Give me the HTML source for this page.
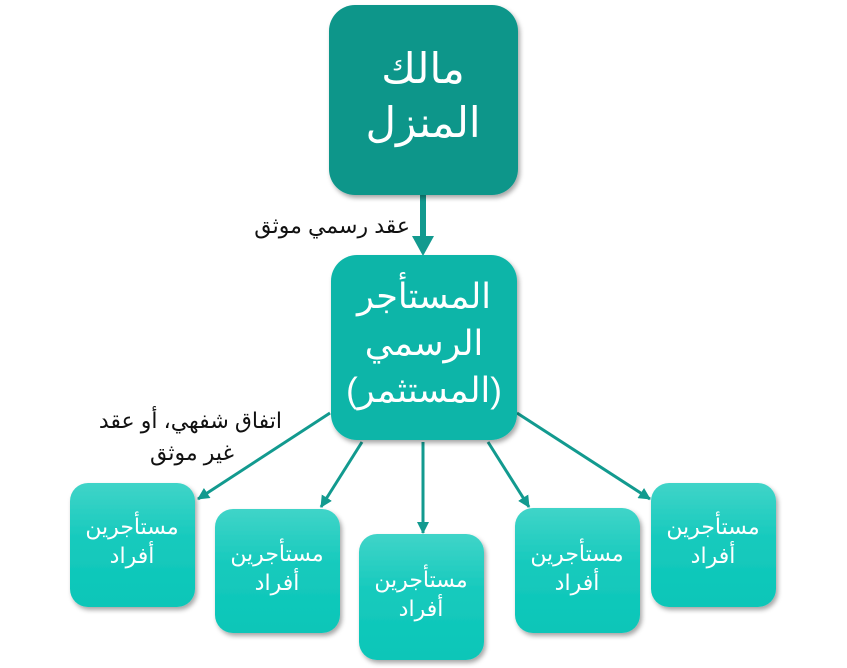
<!DOCTYPE html>
<html><head><meta charset="utf-8"><style>
html,body{margin:0;padding:0;background:#fff;width:847px;height:668px;overflow:hidden}
svg text{font-family:"Liberation Sans","Noto Sans CJK SC","DejaVu Sans",sans-serif}
</style></head><body>
<svg width="847" height="668" viewBox="0 0 847 668" xmlns="http://www.w3.org/2000/svg">
<defs>
<linearGradient id="gb" x1="0" y1="0" x2="0" y2="1"><stop offset="0" stop-color="#40d4c8"/><stop offset="0.45" stop-color="#16cabd"/><stop offset="1" stop-color="#0bc6b8"/></linearGradient>
<filter id="sh" x="-10%" y="-10%" width="130%" height="130%"><feDropShadow dx="2" dy="3" stdDeviation="2.5" flood-color="#000" flood-opacity="0.35"/></filter>
<marker id="ah2" markerWidth="12" markerHeight="12" refX="11" refY="6" orient="auto" markerUnits="userSpaceOnUse"><path d="M0,0 L12,6 L0,12 z" fill="#129a8f"/></marker>
</defs>
<g stroke="#129a8f" stroke-width="3" fill="none">
<line x1="330" y1="413" x2="198" y2="499" marker-end="url(#ah2)"/>
<line x1="362" y1="442" x2="321" y2="507" marker-end="url(#ah2)"/>
<line x1="423" y1="442" x2="423" y2="533" marker-end="url(#ah2)"/>
<line x1="488" y1="442" x2="529" y2="507" marker-end="url(#ah2)"/>
<line x1="517" y1="413" x2="650" y2="499" marker-end="url(#ah2)"/>
</g>
<line x1="423" y1="195" x2="423" y2="240" stroke="#129a8f" stroke-width="6"/>
<path d="M412,236 L434,236 L423,256 z" fill="#129a8f"/>
<rect x="329" y="5" width="189" height="190" rx="26" fill="#0e968a" filter="url(#sh)"/>
<rect x="331" y="255" width="186" height="185" rx="26" fill="#0db5a8" filter="url(#sh)"/>
<rect x="70" y="483" width="125" height="124" rx="18" fill="url(#gb)" filter="url(#sh)"/>
<rect x="215" y="509" width="125" height="124" rx="18" fill="url(#gb)" filter="url(#sh)"/>
<rect x="359" y="534" width="125" height="126" rx="18" fill="url(#gb)" filter="url(#sh)"/>
<rect x="515" y="508" width="125" height="125" rx="18" fill="url(#gb)" filter="url(#sh)"/>
<rect x="651" y="483" width="125" height="124" rx="18" fill="url(#gb)" filter="url(#sh)"/>
<g fill="#fff" text-anchor="middle" direction="rtl">
<text x="423" y="83" font-size="42">مالك</text>
<text x="423" y="137" font-size="42">المنزل</text>
<text x="424" y="308" font-size="35">المستأجر</text>
<text x="424" y="355" font-size="35">الرسمي</text>
<text x="424" y="402" font-size="35">(المستثمر)</text>
<g font-size="22">
<text x="132" y="534">مستأجرين</text><text x="132" y="563">أفراد</text>
<text x="277" y="561">مستأجرين</text><text x="277" y="590">أفراد</text>
<text x="421" y="587">مستأجرين</text><text x="421" y="616">أفراد</text>
<text x="577" y="561">مستأجرين</text><text x="577" y="590">أفراد</text>
<text x="713" y="534">مستأجرين</text><text x="713" y="563">أفراد</text>
</g>
</g>
<g fill="#111" direction="rtl" font-size="22">
<text x="410" y="233" text-anchor="start">عقد رسمي موثق</text>
<text x="282" y="428" text-anchor="start">اتفاق شفهي، أو عقد</text>
<text x="234" y="460" text-anchor="start">غير موثق</text>
</g>
</svg>
</body></html>
